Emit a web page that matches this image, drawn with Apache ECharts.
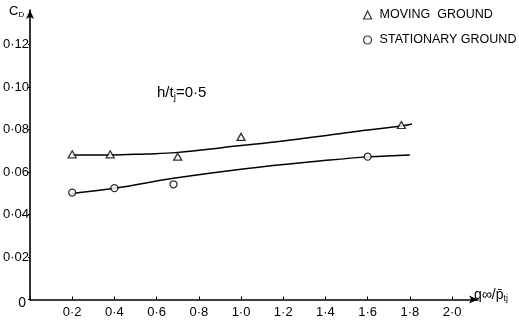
<!DOCTYPE html>
<html>
<head>
<meta charset="utf-8">
<script src="https://cdn.jsdelivr.net/npm/echarts@6/dist/echarts.min.js"></script>
<style>html,body{margin:0;padding:0;background:#fff}#c{width:519px;height:324px}</style>
</head>
<body>
<div id="c"></div>
<script>
// Measured points
const movingX = [0.2, 0.38, 0.7, 1.0, 1.76];
const movingY = [0.0683, 0.0683, 0.0672, 0.0765, 0.0821];
const stationaryX = [0.2, 0.4, 0.68, 1.6];
const stationaryY = [0.0503, 0.0524, 0.0542, 0.0672];
// Faired curves
const movingCurveX = [0.2, 0.38, 0.55, 0.69, 1.0, 1.2, 1.42, 1.6, 1.76, 1.81];
const movingCurveY = [0.0680, 0.0680, 0.0685, 0.0691, 0.0724, 0.0746, 0.0774, 0.0798, 0.0816, 0.0826];
const statCurveX = [0.2, 0.4, 0.68, 1.0, 1.42, 1.6, 1.8];
const statCurveY = [0.0499, 0.0523, 0.0570, 0.0613, 0.0656, 0.0671, 0.0680];
const legendNames = ['MOVING  GROUND', 'STATIONARY GROUND'];

const zip = (a, b) => a.map((v, i) => [v, b[i]]);
const font = 'Liberation Sans';
const chart = echarts.init(document.getElementById('c'));
chart.setOption({
  animation: false,
  backgroundColor: '#fff',
  textStyle: { fontFamily: font },
  grid: { left: 30, right: 41, top: 10, bottom: 24.5, containLabel: false, outerBoundsMode: 'none' },
  legend: {
    orient: 'vertical', left: 363, top: 8, padding: 0, itemGap: 11,
    itemWidth: 8, itemHeight: 8,
    textStyle: { fontSize: 12.5, lineHeight: 14, color: '#000', fontFamily: font, padding: [0, 0, 0, 3] },
    data: [
      { name: legendNames[0], icon: 'triangle', itemStyle: { color: '#fff', borderColor: '#000', borderWidth: 1.2 } },
      { name: legendNames[1], icon: 'circle', itemStyle: { color: '#fff', borderColor: '#000', borderWidth: 1.2 } }
    ]
  },
  xAxis: {
    type: 'value', min: 0, max: 2.123, interval: 0.2,
    axisLine: { lineStyle: { color: '#000', width: 1.6 }, symbol: ['none', 'arrow'], symbolSize: [6, 9] },
    axisTick: { inside: true, length: 3, lineStyle: { color: '#000' } },
    splitLine: { show: false },
    axisLabel: {
      showMaxLabel: false, color: '#000', fontSize: 13, margin: 6,
      formatter: v => v === 0 ? '' : v.toFixed(1).replace('.', '·')
    }
  },
  yAxis: {
    type: 'value', min: 0, max: 0.1362, interval: 0.02,
    axisLine: { onZero: false, lineStyle: { color: '#000', width: 1.6 }, symbol: ['none', 'arrow'], symbolSize: [6, 9] },
    axisTick: { show: true, inside: false, length: 2, lineStyle: { color: '#000' } },
    splitLine: { show: false },
    axisLabel: {
      showMaxLabel: false, color: '#000', fontSize: 13, margin: 1,
      formatter: v => v === 0 ? '{z|0}' : v.toFixed(2).replace('.', '·'),
      rich: { z: { fontSize: 14, padding: [8, 3, 0, 0], color: '#000' } }
    }
  },
  series: [
    { type: 'line', data: zip(movingCurveX, movingCurveY), smooth: 0.4, showSymbol: false, silent: true,
      lineStyle: { color: '#000', width: 1.5 } },
    { type: 'line', data: zip(statCurveX, statCurveY), smooth: 0.4, showSymbol: false, silent: true,
      lineStyle: { color: '#000', width: 1.5 } },
    { name: legendNames[0], type: 'scatter', data: zip(movingX, movingY), symbol: 'triangle', symbolSize: [8, 7],
      itemStyle: { color: '#fff', borderColor: '#000', borderWidth: 1.3 }, z: 5 },
    { name: legendNames[1], type: 'scatter', data: zip(stationaryX, stationaryY), symbol: 'circle', symbolSize: 7,
      itemStyle: { color: '#fff', borderColor: '#000', borderWidth: 1.3 }, z: 5 }
  ],
  graphic: [
    { type: 'text', left: 9, top: 5, style: { text: 'C{s|D}', fontSize: 13, fill: '#000', fontFamily: font,
      rich: { s: { fontSize: 8, padding: [6, 0, 0, 0] } } } },
    { type: 'text', left: 474, top: 288, style: { text: 'q∞/p̄{s|tj}', fontSize: 14, fill: '#000', fontFamily: font,
      rich: { s: { fontSize: 9, padding: [8, 0, 0, 0] } } } },
    { type: 'text', left: 157, top: 85, style: { text: 'h/t{s|j}=0·5', fontSize: 15, fill: '#000', fontFamily: font,
      rich: { s: { fontSize: 10, padding: [10, 0, 0, 0] } } } }
  ]
});
</script>
</body>
</html>
